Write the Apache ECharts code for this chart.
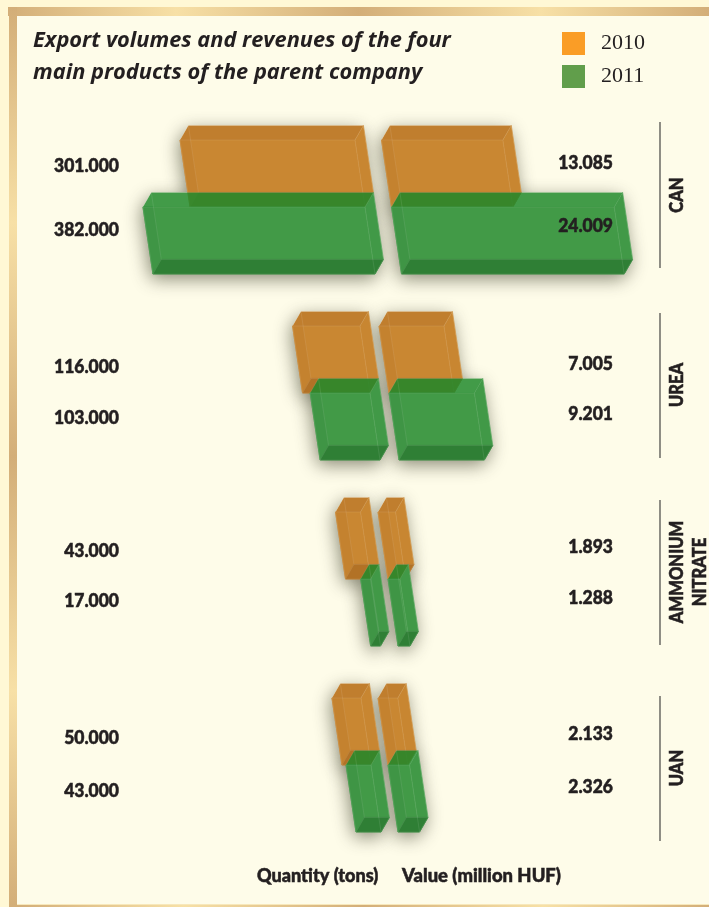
<!DOCTYPE html>
<html><head><meta charset="utf-8">
<style>html,body{margin:0;padding:0;background:#fefce9}#c{width:709px;height:907px}</style>
<script src="https://cdn.jsdelivr.net/npm/echarts@6/dist/echarts.min.js"></script>
</head><body><div id="c"></div>
<script>
const categories = ['CAN','UREA','AMMONIUM\nNITRATE','UAN'];
const quantity2010 = [301000,116000,43000,50000];
const quantity2011 = [382000,103000,17000,43000];
const value2010 = [13085,7005,1893,2133];
const value2011 = [24009,9201,1288,2326];
const years = ['2010','2011'];
const axisLabels = ['Quantity (tons)','Value (million HUF)'];

// drawing constants
const H = 67, DX = 8.4, DY = -14.6, SHEAR = 10/67;
const groupShiftL = [-5,0,0.5,1], groupShiftR = [3.5,1,0,0];
const BG = '#fefce9', INK = '#231f20';
const palette = {
  2010:{front:'#c98732',left:'#c4822f',top:'#c07e2e',bottom:'#b27226',right:'#c88631',legend:'#fa9d26'},
  2011:{front:'#429a47',left:'#3f9545',top:'rgba(33,137,43,0.85)',bottom:'#2f7f35',right:'#419947',legend:'#619e4b'}
};
const edge = 'rgba(255,255,255,0.09)';
const BOLD = 'Lato';
const HEAVY = {fontFamily:BOLD,fontWeight:900,fill:INK,stroke:INK,lineWidth:0.55};

function boxCorners(api, row, side){
  const p = api.coord([api.value(0), api.value(1)]);
  const o = api.coord([0, api.value(1)]);
  const ci = api.value(1);
  const shift = side === 'L' ? groupShiftL[ci] : groupShiftR[ci];
  const yTop = o[1] + (row === 0 ? -H : 0);
  const base = o[0] + shift + (row === 0 ? 0 : 10);
  const end = p[0] + shift + (row === 0 ? 0 : 10);
  const a = Math.min(base,end), b = Math.max(base,end);
  const s = H*SHEAR;
  return {
    yTop,
    ftl:[a,yTop], ftr:[b,yTop], fbr:[b+s,yTop+H], fbl:[a+s,yTop+H],
    btl:[a+DX,yTop+DY], btr:[b+DX,yTop+DY], bbr:[b+s+DX,yTop+H+DY], bbl:[a+s+DX,yTop+H+DY]
  };
}
function poly(pts, fill, sealed){
  return {type:'polygon', shape:{points:pts}, style:{fill:fill, stroke:sealed?fill:null, lineWidth:sealed?0.7:0}};
}
function boxRender(year,row,side){
  const c = palette[year];
  return function(params, api){
    const k = boxCorners(api,row,side);
    // the back-left edge where it crosses the front-top level
    const cross = [k.btl[0] + (k.yTop - k.btl[1])*SHEAR, k.yTop];
    return {type:'group', children:[
      poly([k.btr,k.ftr,k.fbr,k.bbr], c.right, true),
      poly([k.ftl,k.ftr,k.fbr,k.fbl], c.front, true),
      poly([k.ftl,cross,k.bbl,k.fbl], c.left, true),
      poly([k.fbl,k.fbr,k.bbr,k.bbl], c.bottom, true),
      poly([k.btl,k.btr,k.ftr,k.ftl], c.top, false),
      {type:'polyline',shape:{points:[k.ftl,k.ftr,k.fbr,k.fbl,k.ftl]},style:{fill:null,stroke:edge,lineWidth:1}},
      {type:'polyline',shape:{points:[k.btl,k.btr,k.bbr,k.bbl,k.btl]},style:{fill:null,stroke:edge,lineWidth:1}},
      {type:'line',shape:{x1:k.ftl[0],y1:k.ftl[1],x2:k.btl[0],y2:k.btl[1]},style:{stroke:edge}},
      {type:'line',shape:{x1:k.ftr[0],y1:k.ftr[1],x2:k.btr[0],y2:k.btr[1]},style:{stroke:edge}},
      {type:'line',shape:{x1:k.fbr[0],y1:k.fbr[1],x2:k.bbr[0],y2:k.bbr[1]},style:{stroke:edge}},
      {type:'line',shape:{x1:k.fbl[0],y1:k.fbl[1],x2:k.bbl[0],y2:k.bbl[1]},style:{stroke:edge}}
    ]};
  };
}
function shadowRender(row,side){
  return function(params, api){
    const k = boxCorners(api,row,side);
    return {type:'polygon', shape:{points:[k.btl,k.btr,k.bbr,k.fbr,k.fbl,k.ftl]},
      style:{fill:BG, shadowBlur:18, shadowOffsetX:-2, shadowOffsetY:5, shadowColor:'rgba(60,60,40,0.6)'}};
  };
}
const fmt = v => v >= 1000 ? String(Math.floor(v/1000))+'.'+String(v%1000).padStart(3,'0') : String(v);
const labelOffL = [[-41,23],[-26,25],[-28,22],[-27,26]];
const labelOffR = [[-44,19],[-29,21],[-32,19],[-31,22]];
function labelRender(row,side){
  return function(params, api){
    const ci = api.value(1);
    const o = api.coord([0,ci]);
    const off = (side==='L'?labelOffL:labelOffR)[ci][row];
    return {type:'text', x: side==='L'?119:613, y:o[1]+off, scaleX:0.92,
      style:Object.assign({text:fmt(api.value(0)), textAlign:'right', textVerticalAlign:'middle', fontSize:19},HEAVY), z2:10};
  };
}
function rows(arr){ return arr.map((v,i)=>[v,i]); }
const sides = [
  {side:'L', ax:0, d:[quantity2010,quantity2011]},
  {side:'R', ax:1, d:[value2010,value2011]}
];
const series = [];
sides.forEach(s=>{
  [0,1].forEach(row=>{
    series.push({type:'custom',name:'shadow'+s.side+row,xAxisIndex:s.ax,yAxisIndex:s.ax,z:1,silent:true,clip:false,
      renderItem:shadowRender(row,s.side),data:rows(s.d[row]),encode:{x:0,y:1}});
  });
});
sides.forEach(s=>{
  [0,1].forEach(row=>{
    series.push({type:'custom',name:years[row],xAxisIndex:s.ax,yAxisIndex:s.ax,z:2+row,silent:true,clip:false,
      itemStyle:{color:palette[years[row]].legend},
      renderItem:boxRender(years[row],row,s.side),data:rows(s.d[row]),encode:{x:0,y:1}});
    series.push({type:'custom',name:'label'+s.side+row,xAxisIndex:s.ax,yAxisIndex:s.ax,z:5,silent:true,clip:false,
      renderItem:labelRender(row,s.side),data:rows(s.d[row]),encode:{x:0,y:1}});
  });
});
const frameGrad = (x,y,x2,y2)=>new echarts.graphic.LinearGradient(x,y,x2,y2,[
  {offset:0,color:'#d3ae78'},{offset:.24,color:'#f7e0a6'},{offset:.5,color:'#d3ae78'},{offset:.76,color:'#f7e0a6'},{offset:1,color:'#d3ae78'}]);
const sideLines = [[122,268],[313,458],[500,645],[696,841]];
const sideLabelCfg = [[677,195],[677,385],[689,572],[677,768]];
const graphic = [
  {type:'rect',shape:{x:0,y:0,width:709,height:7},style:{fill:'#fff8d5'},z:-5,silent:true},
  {type:'rect',shape:{x:0,y:0,width:9,height:907},style:{fill:'#fff8d5'},z:-5,silent:true},
  {type:'rect',shape:{x:8,y:7,width:701,height:9},style:{fill:frameGrad(0,0,1,0)},z:-4,silent:true},
  {type:'rect',shape:{x:9,y:7,width:8,height:900},style:{fill:frameGrad(0,0,0,1)},z:-4,silent:true},
  {type:'rect',shape:{x:17,y:904,width:692,height:1},style:{fill:'#f7e8bb'},z:-4,silent:true},
  {type:'rect',shape:{x:17,y:905,width:692,height:2},style:{fill:frameGrad(0,0,1,0)},z:-4,silent:true}
];
sideLines.forEach(l=>graphic.push({type:'line',shape:{x1:660,y1:l[0],x2:660,y2:l[1]},style:{stroke:'#444442',lineWidth:1.2},silent:true}));
categories.forEach((c,i)=>graphic.push({type:'text',x:sideLabelCfg[i][0],y:sideLabelCfg[i][1],rotation:Math.PI/2,scaleX:0.92,silent:true,
  style:Object.assign({text:c,textAlign:'center',textVerticalAlign:'middle',lineHeight:23,fontSize:18},HEAVY)}));
graphic.push({type:'text',x:257,y:876,scaleX:0.95,silent:true,style:Object.assign({text:axisLabels[0],textVerticalAlign:'middle',fontSize:19},HEAVY)});
graphic.push({type:'text',x:402,y:876,scaleX:0.97,silent:true,style:Object.assign({text:axisLabels[1],textVerticalAlign:'middle',fontSize:19},HEAVY)});

const chart = echarts.init(document.getElementById('c'),null,{renderer:'canvas'});
chart.setOption({
  animation:false,
  backgroundColor:BG,
  title:{text:'Export volumes and revenues of the four\nmain products of the parent company',left:33,top:25,padding:0,
    textStyle:{fontFamily:'Open Sans',fontStyle:'italic',fontWeight:'bold',fontSize:21.8,lineHeight:32,color:INK}},
  legend:{data:years,orient:'vertical',left:562,top:32,padding:0,itemWidth:23,itemHeight:23,itemGap:10,icon:'rect',selectedMode:false,
    textStyle:{fontFamily:'"Liberation Serif"',fontSize:22,color:INK,padding:[3,0,0,11]}},
  grid:[
    {left:60,width:300,top:114,height:744},
    {left:378,width:269,top:114,height:744}
  ],
  xAxis:[
    {type:'value',gridIndex:0,inverse:true,min:0,max:516000,show:false},
    {type:'value',gridIndex:1,min:0,max:29000,show:false}
  ],
  yAxis:[
    {type:'category',gridIndex:0,data:categories,inverse:true,show:false},
    {type:'category',gridIndex:1,data:categories,inverse:true,show:false}
  ],
  graphic:graphic,
  series:series
});
</script></body></html>
